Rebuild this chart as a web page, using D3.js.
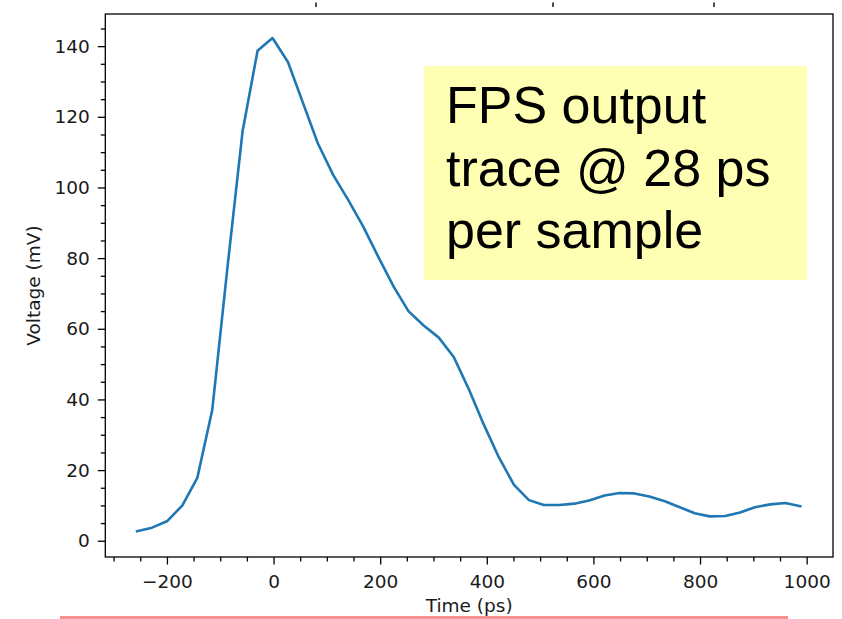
<!DOCTYPE html>
<html><head><meta charset="utf-8">
<script src="https://cdn.jsdelivr.net/npm/d3@7/dist/d3.min.js"></script>
<style>body{margin:0;background:#fff;overflow:hidden}</style></head>
<body>
<svg id="c" width="842" height="619"></svg>
<script>
// ---- data ----
const timePs = [-256, -228, -200, -171, -143, -115, -86, -58, -30, -2,
  27, 55, 83, 112, 140, 168, 196, 225, 253, 281,
  310, 338, 366, 394, 423, 451, 479, 507, 536, 564,
  592, 621, 649, 677, 705, 734, 762, 790, 818, 847,
  875, 903, 932, 960, 988];
const voltageMv = [2.7, 3.7, 5.5, 10.0, 17.8, 37.0, 78.0, 116.0, 138.7, 142.3,
  135.5, 124.0, 112.5, 103.5, 96.5, 89.0, 80.5, 72.0, 65.0, 61.0,
  57.5, 52.0, 43.0, 33.0, 23.5, 15.8, 11.5, 10.1, 10.1, 10.5,
  11.4, 12.8, 13.5, 13.4, 12.5, 11.2, 9.5, 7.8, 6.9, 7.0,
  8.0, 9.5, 10.3, 10.7, 9.8];
const xMajorTicks = [-200, 0, 200, 400, 600, 800, 1000];
const xMinorTicks = [-300, -250, -150, -100, -50, 50, 100, 150, 250, 300, 350, 450, 500, 550, 650, 700, 750, 850, 900, 950];
const yMajorTicks = [0, 20, 40, 60, 80, 100, 120, 140];
const yMinorTicks = [5, 10, 15, 25, 30, 35, 45, 50, 55, 65, 70, 75, 85, 90, 95, 105, 110, 115, 125, 130, 135, 145];
const xLabel = "Time (ps)";
const yLabel = "Voltage (mV)";
const noteLines = ["FPS output", "trace @ 28 ps", "per sample"];

// ---- layout ----
const L = 105.3, R = 833, T = 14, B = 557;
const svg = d3.select("#c");
const x = d3.scaleLinear().domain([-315.6, 1049.4]).range([L, R]);
const y = d3.scaleLinear().domain([-4.6, 149.1]).range([B, T]);
const fmt = v => (v < 0 ? "\u2212" + Math.abs(v) : String(v));
const tickFont = "DejaVu Sans, sans-serif";

// note box
const box = svg.append("g");
box.append("rect").attr("x", 424).attr("y", 66).attr("width", 383).attr("height", 214)
  .attr("fill", "#ffffb4");
box.selectAll("text").data(noteLines).join("text")
  .attr("x", 446).attr("y", (d, i) => 123 + i * 62.5)
  .attr("font-family", "Liberation Sans, Arial, sans-serif")
  .attr("font-size", 52).attr("fill", "#000").text(d => d);

// line
const line = d3.line().x((d, i) => x(timePs[i])).y(d => y(d));
svg.append("path").datum(voltageMv).attr("d", line)
  .attr("fill", "none").attr("stroke", "#1f77b4").attr("stroke-width", 2.6)
  .attr("stroke-linejoin", "round").attr("stroke-linecap", "square");

// axes
function style(g) {
  g.select(".domain").remove();
  g.selectAll(".tick line").attr("stroke", "#000").attr("stroke-width", 1.3);
  g.selectAll(".tick text").attr("fill", "#1a1a1a").attr("font-family", tickFont).attr("font-size", 18.5);
}
svg.append("g").attr("transform", `translate(0,${B})`)
  .call(d3.axisBottom(x).tickValues(xMinorTicks).tickSize(4.5).tickFormat("")).call(style);
svg.append("g").attr("transform", `translate(0,${B})`)
  .call(d3.axisBottom(x).tickValues(xMajorTicks).tickSize(7.5).tickPadding(10).tickFormat(fmt)).call(style);
svg.append("g").attr("transform", `translate(${L},0)`)
  .call(d3.axisLeft(y).tickValues(yMinorTicks).tickSize(4.5).tickFormat("")).call(style);
svg.append("g").attr("transform", `translate(${L},0)`)
  .call(d3.axisLeft(y).tickValues(yMajorTicks).tickSize(7.5).tickPadding(8).tickFormat(fmt)).call(style);

// frame
svg.append("rect").attr("x", L).attr("y", T).attr("width", R - L).attr("height", B - T)
  .attr("fill", "none").attr("stroke", "#000").attr("stroke-width", 1.3);

// axis labels
svg.append("text").attr("x", (L + R) / 2).attr("y", 612).attr("text-anchor", "middle")
  .attr("font-family", tickFont).attr("font-size", 18.5).attr("fill", "#1a1a1a").text(xLabel);
svg.append("text").attr("transform", `translate(40,${(T + B) / 2}) rotate(-90)`).attr("text-anchor", "middle")
  .attr("font-family", tickFont).attr("font-size", 18.5).attr("fill", "#1a1a1a").text(yLabel);

// stubs of ticks from the panel above (cropped)
svg.selectAll("line.stub").data([316, 553, 714]).join("line").attr("class", "stub")
  .attr("x1", d => d).attr("x2", d => d).attr("y1", 2.5).attr("y2", 7)
  .attr("stroke", "#222").attr("stroke-width", 1.6);

// pink rule at bottom
svg.append("rect").attr("x", 60).attr("y", 616).attr("width", 728).attr("height", 3).attr("fill", "#f59393");
</script>
</body></html>
